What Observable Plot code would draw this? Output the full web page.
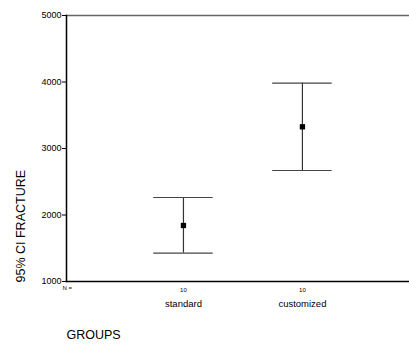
<!DOCTYPE html>
<html><head><meta charset="utf-8">
<script src="https://cdn.jsdelivr.net/npm/d3@7"></script>
<script src="https://cdn.jsdelivr.net/npm/@observablehq/plot@0.6"></script>
<style>body{margin:0;background:#fff}</style>
</head><body><div id="chart"></div>
<script>
const groups = ["standard", "customized"];
const groupPos = [1, 2];
const nValues = [10, 10];
const means = [1842, 3326];
const lower = [1426, 2669];
const upper = [2263, 3982];
const yTicks = [1000, 2000, 3000, 4000, 5000];
const yLabel = "95% CI FRACTURE";
const xLabel = "GROUPS";
const nLabel = "N =";
const capHalf = 0.25;

const data = groups.map((g, i) => ({group: g, pos: groupPos[i], n: nValues[i], mean: means[i], lo: lower[i], hi: upper[i]}));

const chart = Plot.plot({
  width: 409,
  height: 344,
  marginLeft: 66,
  marginRight: 0,
  marginTop: 15,
  marginBottom: 63,
  style: {fontFamily: "'Liberation Sans', Arial, sans-serif", background: "#fff", color: "#000"},
  x: {type: "linear", domain: [0.017, 2.9], axis: null},
  y: {domain: [1000, 5000], axis: null},
  marks: [
    Plot.frame({anchor: "top", stroke: "#666", strokeWidth: 1.5}),
    Plot.frame({anchor: "left", stroke: "#000", strokeWidth: 1.5}),
    Plot.frame({anchor: "bottom", stroke: "#000", strokeWidth: 1.5}),
    Plot.axisY({ticks: yTicks, tickSize: 4, tickPadding: 1, tickFormat: d => String(d), label: null, fontSize: 9, stroke: "#000"}),
    Plot.ruleX(data, {x: "pos", y1: "lo", y2: "hi", stroke: "#333", strokeWidth: 1.2}),
    Plot.ruleY(data, {y: "lo", x1: d => d.pos - capHalf, x2: d => d.pos + capHalf, stroke: "#444", strokeWidth: 1.2}),
    Plot.ruleY(data, {y: "hi", x1: d => d.pos - capHalf, x2: d => d.pos + capHalf, stroke: "#444", strokeWidth: 1.2}),
    Plot.dot(data, {x: "pos", y: "mean", symbol: "square", r: 3, fill: "#000", stroke: "none"}),
    Plot.text(data, {x: "pos", text: d => String(d.n), frameAnchor: "bottom", dy: 10, fontSize: 6}),
    Plot.text(data, {x: "pos", text: "group", frameAnchor: "bottom", dy: 25, fontSize: 9.5}),
    Plot.text([nLabel], {frameAnchor: "bottom-left", dx: -4, dy: 8, fontSize: 6}),
    Plot.text([xLabel], {frameAnchor: "bottom-left", dy: 57, textAnchor: "start", fontSize: 12.5}),
    Plot.text([yLabel], {frameAnchor: "bottom-left", rotate: -90, textAnchor: "start", dx: -42, dy: 1, fontSize: 12.5})
  ]
});
document.getElementById("chart").appendChild(chart);
</script>
</body></html>
